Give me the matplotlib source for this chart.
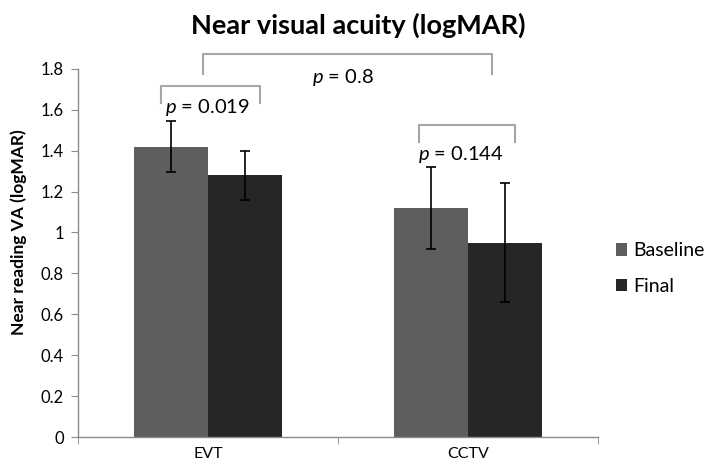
import numpy as np
import matplotlib
matplotlib.use("Agg")
import matplotlib.pyplot as plt

plt.rcParams["font.family"] = ["Lato", "DejaVu Sans"]
plt.rcParams["mathtext.fontset"] = "custom"
plt.rcParams["mathtext.it"] = "Lato:italic"
plt.rcParams["mathtext.rm"] = "Lato"

# -----------------------------
# Daten
# -----------------------------
groups = ["EVT", "CCTV"]
series = ["Baseline", "Final"]
baseline = [1.42, 1.12]
baseline_err = [0.125, 0.20]
final = [1.28, 0.95]
final_err = [0.12, 0.29]

# Klammern: (x links, x rechts, y oben, Beinlaenge, Text, Text-x, Text-y)
brackets = [
    (-0.02, 1.09, 1.874, 0.10, "$p$ = 0.8", 0.52, 1.76),
    (-0.18, 0.20, 1.717, 0.083, "$p$ = 0.019", 0.0, 1.612),
    (0.81, 1.18, 1.526, 0.083, "$p$ = 0.144", 0.97, 1.38),
]

colors = ["#5e5e5e", "#262626"]
axis_grey = "#8c8c8c"

# -----------------------------
# Plot
# -----------------------------
fig = plt.figure(figsize=(7.13, 4.65), dpi=100)
ax = fig.add_axes([0.109, 0.060, 0.730, 0.792])

x = np.arange(len(groups))
w = 0.285
err_kw = dict(ecolor="black", elinewidth=1.2, capsize=3.5, capthick=1.2)
ax.bar(x - w / 2, baseline, w, yerr=baseline_err, color=colors[0],
       label=series[0], error_kw=err_kw, zorder=2)
ax.bar(x + w / 2, final, w, yerr=final_err, color=colors[1],
       label=series[1], error_kw=err_kw, zorder=2)

ax.set_xlim(-0.5, 1.5)
ax.set_ylim(0, 1.8)
ax.set_yticks(np.arange(0, 1.81, 0.2))
ax.set_yticklabels(["0", "0.2", "0.4", "0.6", "0.8", "1", "1.2", "1.4", "1.6", "1.8"])
ax.set_xticks(x)
ax.set_xticklabels(groups)
ax.set_xticks([-0.5, 0.5, 1.5], minor=True)
ax.tick_params(axis="x", which="major", length=0, labelsize=11.5, pad=7)
ax.tick_params(axis="x", which="minor", length=5, color=axis_grey, direction="out")
ax.tick_params(axis="y", length=5, color=axis_grey, labelsize=12, pad=5)

for s in ["top", "right"]:
    ax.spines[s].set_visible(False)
for s in ["left", "bottom"]:
    ax.spines[s].set_color(axis_grey)
    ax.spines[s].set_linewidth(1.0)

ax.set_ylabel("Near reading VA (logMAR)", fontsize=12.5, fontweight="bold")
ax.yaxis.set_label_coords(-0.098, 0.557)

fig.text(0.503, 0.946, "Near visual acuity (logMAR)", ha="center", va="center",
         fontsize=19.5, fontweight="bold")

# Klammern mit p-Werten
for x0, x1, ytop, leg, txt, tx, ty in brackets:
    ax.plot([x0, x0, x1, x1], [ytop - leg, ytop, ytop, ytop - leg],
            color="#a6a6a6", lw=1.5, solid_joinstyle="round",
            clip_on=False, zorder=3)
    ax.text(tx, ty, txt, ha="center", va="center", fontsize=14.5, zorder=4)

leg = ax.legend(loc="center left", bbox_to_anchor=(1.0, 0.458), frameon=False,
                fontsize=14, handlelength=0.6, handleheight=0.6,
                handletextpad=0.3, labelspacing=0.95)

fig.savefig("out.png", dpi=100)
